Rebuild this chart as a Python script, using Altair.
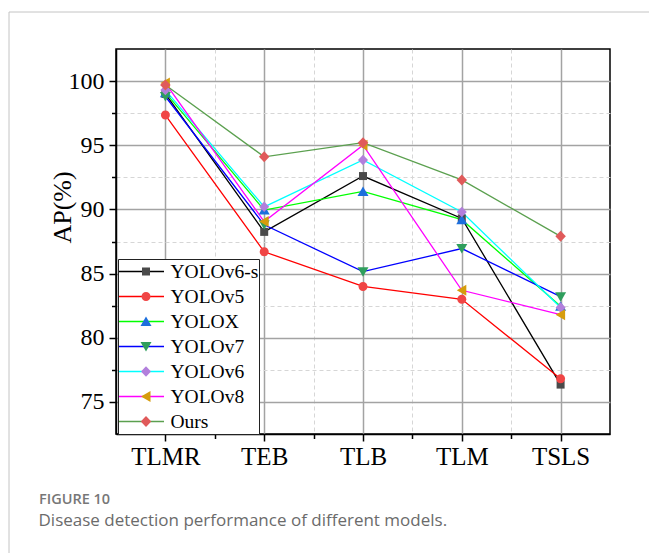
import json
import altair as alt
import pandas as pd

categories = ["TLMR", "TEB", "TLB", "TLM", "TSLS"]
models = ["YOLOv6-s", "YOLOv5", "YOLOX", "YOLOv7", "YOLOv6", "YOLOv8", "Ours"]

yolov6s = [99.0, 88.25, 92.6, 89.3, 76.35]
yolov5 = [97.35, 86.7, 84.0, 83.0, 76.8]
yolox = [99.1, 89.95, 91.4, 89.2, 82.45]
yolov7 = [98.8, 88.8, 85.15, 86.95, 83.2]
yolov6 = [99.3, 90.2, 93.85, 89.8, 82.35]
yolov8 = [99.85, 89.05, 95.0, 83.7, 81.8]
ours = [99.7, 94.1, 95.2, 92.3, 87.9]
series_values = [yolov6s, yolov5, yolox, yolov7, yolov6, yolov8, ours]

line_colors = ["#000000", "#ff0000", "#00ff00", "#0000ff", "#00ffff", "#ff00ff", "#5ba04f"]
marker_colors = ["#4a4a4a", "#f04545", "#1d6fdd", "#2f9e5d", "#b27fdc", "#d69c0c", "#e05a5a"]
# marker outlines in a [-1, 1] box (square, circle, triangle up/down, diamond, triangle left, diamond)
marker_shapes = [
    "M-0.8,-0.8H0.8V0.8H-0.8Z",
    "M0.9,0A0.9,0.9,0,1,1,-0.9,0A0.9,0.9,0,1,1,0.9,0Z",
    "M0,-1L1.1,0.9L-1.1,0.9Z",
    "M0,1L1.1,-0.9L-1.1,-0.9Z",
    "M0,-1.05L1,0L0,1.05L-1,0Z",
    "M-1,0L0.9,-1.1L0.9,1.1Z",
    "M0,-1.1L1.05,0L0,1.1L-1.05,0Z",
]

rows = []
for k, (m, vals) in enumerate(zip(models, series_values)):
    for i, (c, v) in enumerate(zip(categories, vals)):
        rows.append({"model": m, "series": m, "order": k, "idx": i, "cat": c, "ap": v})
df = pd.DataFrame(rows)

serif = "Liberation Serif"
x_vals = [i / 2 for i in range(2 * len(categories) - 1)]
y_vals = [75 + 2.5 * i for i in range(11)]

minor_x = "datum.value % 1 != 0"
minor_y = "datum.value % 5 != 0"

def cond(test, a, b):
    return {"condition": {"test": test, "value": a}, "value": b}

x_axis = alt.Axis(
    values=x_vals, title=None, labelExpr=f"datum.value % 1 == 0 ? {json.dumps(categories)}[datum.value] : ''",
    labelFont=serif, labelFontSize=25, labelColor="black", labelPadding=3, labelOverlap=False, labelFlush=False,
    tickColor="black", tickWidth=1.5, tickSize=cond(minor_x, 4.5, 7),
    domainColor="black", domainWidth=1.5,
    grid=True, gridColor=cond(minor_x, "#d6d6d6", "#a3a3a3"), gridWidth=cond(minor_x, 1, 1.5),
    gridDash=cond(minor_x, [4, 3], []),
)
y_axis = alt.Axis(
    values=y_vals, title="AP(%)", labelExpr="datum.value % 5 == 0 ? datum.label : ''",
    labelFont=serif, labelFontSize=24, labelColor="black", labelPadding=5, labelOverlap=False, labelFlush=False,
    tickColor="black", tickWidth=1.5, tickSize=cond(minor_y, 4.5, 7),
    domainColor="black", domainWidth=1.5,
    grid=True, gridColor=cond(minor_y, "#d6d6d6", "#a3a3a3"), gridWidth=cond(minor_y, 1, 1.5),
    gridDash=cond(minor_y, [4, 3], []),
    titleFont=serif, titleFontSize=26, titleFontWeight="normal", titleColor="black",
    titleX=-46, titleY=158, titleBaseline="alphabetic",
)

x_enc = alt.X("idx:Q", scale=alt.Scale(domain=[-0.5, 4.5], nice=False, zero=False), axis=x_axis)
y_enc = alt.Y("ap:Q", scale=alt.Scale(domain=[72.5, 102.5], nice=False, zero=False), axis=y_axis)

common_legend = dict(
    title=None, orient="none", legendX=2, legendY=210, clipHeight=25, rowPadding=0, padding=0,
    labelFont=serif, labelFontSize=19.5, labelColor="black", labelLimit=300,
)

line_legend = alt.Legend(
    symbolType="stroke", symbolSize=2025, symbolStrokeWidth=1.5, labelOffset=5.5,
    strokeColor="#222222", fillColor="white", zindex=1, **common_legend,
)
marker_legend = alt.Legend(
    symbolSize=100, symbolStrokeWidth=0, symbolOffset=18.25, symbolOpacity=1, labelExpr="''",
    labelOffset=0, zindex=2, **common_legend,
)

lines = alt.Chart(df).mark_line(strokeWidth=1.3).encode(
    x=x_enc, y=y_enc,
    color=alt.Color("model:N", sort=alt.EncodingSortField(field="order", op="min"),
                    scale=alt.Scale(range=line_colors), legend=line_legend),
)

points = alt.Chart(df).mark_point(filled=True, opacity=1, size=100).encode(
    x=x_enc, y=y_enc,
    fill=alt.Fill("series:N", scale=alt.Scale(domain=models, range=marker_colors), legend=marker_legend),
    shape=alt.Shape("series:N", scale=alt.Scale(domain=models, range=marker_shapes), legend=marker_legend),
)

one = pd.DataFrame({"k": [0]})
card_top = alt.Chart(one).mark_rule(color="#c4c4c4", strokeWidth=1).encode(
    x=alt.value(-107), x2=alt.value(560), y=alt.value(-37))
card_left = alt.Chart(one).mark_rule(color="#c4c4c4", strokeWidth=1).encode(
    x=alt.value(-107), y=alt.value(-37), y2=alt.value(520))
cap1 = alt.Chart(one).mark_text(
    text="FIGURE 10", font="Open Sans", fontSize=14.5, fontWeight=600, color="#777777",
    align="left", baseline="alphabetic").encode(x=alt.value(-77), y=alt.value(455))
cap2 = alt.Chart(one).mark_text(
    text="Disease detection performance of different models.", font="Open Sans", fontSize=17,
    color="#6b6b6b", align="left", baseline="alphabetic").encode(x=alt.value(-77.5), y=alt.value(476.7))

chart = alt.layer(card_top, card_left, lines, points, cap1, cap2).properties(
    width=494, height=385,
    padding={"left": 116, "top": 49, "right": 39, "bottom": 119},
    autosize=alt.AutoSizeParams(type="none"),
    background="white",
).configure_view(stroke="black", strokeWidth=1.5)

chart.save("out.html", embed_options={"renderer": "svg", "actions": False})
